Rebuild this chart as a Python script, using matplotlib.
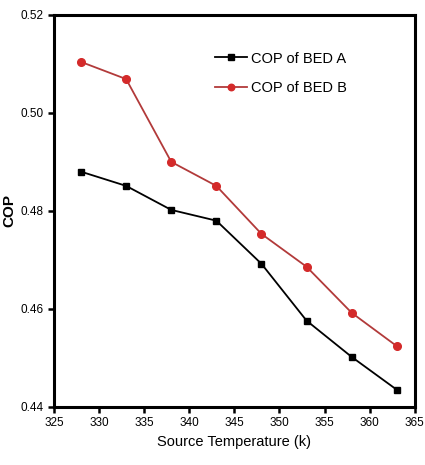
import matplotlib.pyplot as plt

plt.rcParams['font.family'] = ['Liberation Sans', 'DejaVu Sans']

# source temperature (K)
temps = [328, 333, 338, 343, 348, 353, 358, 363]
cop_a = [0.4880, 0.4851, 0.4802, 0.4780, 0.4692, 0.4576, 0.4502, 0.4435]
cop_b = [0.5104, 0.5069, 0.4900, 0.4851, 0.4753, 0.4686, 0.4592, 0.4524]

x_ticks = [325, 330, 335, 340, 345, 350, 355, 360, 365]
y_ticks = [0.44, 0.46, 0.48, 0.50, 0.52]

fig = plt.figure(figsize=(4.25, 4.65), dpi=100)
ax = fig.add_axes([0.127, 0.125, 0.849, 0.843])

ax.plot(temps, cop_a, color="black", lw=1.3, marker="s", ms=5,
        label="COP of BED A")
ax.plot(temps, cop_b, color="#b23a3a", lw=1.3, marker="o", ms=5.5,
        mfc="#d42a2a", mec="#d42a2a", label="COP of BED B")

ax.set_xlim(325, 365)
ax.set_ylim(0.44, 0.52)
ax.set_xticks(x_ticks)
ax.set_yticks(y_ticks)
ax.set_xticklabels([str(t) for t in x_ticks])
ax.set_yticklabels(["%.2f" % t for t in y_ticks])

for side in ["top", "bottom", "left", "right"]:
    ax.spines[side].set_linewidth(2.2)

ax.tick_params(direction="out", length=4, width=1.8, labelsize=8.5,
               top=False, right=False)

ax.set_xlabel("Source Temperature (k)", fontsize=10.5)
ax.set_ylabel("COP", fontsize=11, fontweight="bold")
ax.yaxis.set_label_coords(-0.105, 0.5)

ax.legend(loc="upper left", bbox_to_anchor=(0.41, 0.94), frameon=False,
          fontsize=10.5, handlelength=2.2, handletextpad=0.3, labelspacing=1.05,
          markerscale=0.85)

fig.savefig("out.png", dpi=100)
